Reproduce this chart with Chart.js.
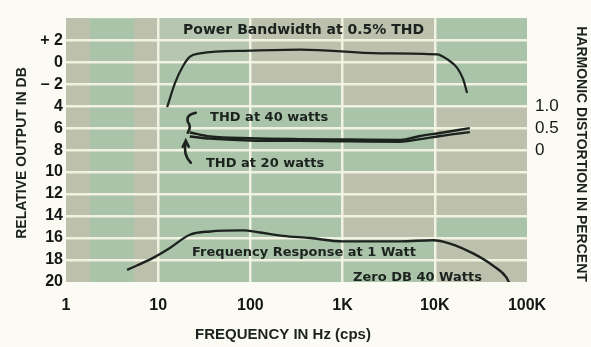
<!DOCTYPE html>
<html>
<head>
<meta charset="utf-8">
<script src="https://cdn.jsdelivr.net/npm/chart.js@4.4.1/dist/chart.umd.min.js"></script>
<style>
  html, body { margin: 0; padding: 0; background: #fbfbf4; }
  #wrap { width: 591px; height: 347px; }
</style>
</head>
<body>
<div id="wrap"><canvas id="chart" width="591" height="347"></canvas></div>
<script>
// axes
const freqTicks = [1, 10, 100, 1000, 10000, 100000];
const freqLabels = ['1', '10', '100', '1K', '10K', '100K'];
const dbTicks = [2, 0, -2, -4, -6, -8, -10, -12, -14, -16, -18, -20];
const dbLabels = ['+ 2', '0', '\u2013 2', '4', '6', '8', '10', '12', '14', '16', '18', '20'];
const thdTicks = [0, 0.5, 1.0];
const thdLabels = ['0', '0.5', '1.0'];

// power bandwidth at 0.5% THD (dB)
const pbFreq = [12.5, 15.2, 18.6, 22.1, 28.4, 99, 345, 2550, 10600, 13600, 17400, 20200, 22400];
const pbDb = [-4.1, -1.9, -0.35, 0.5, 0.8, 1.05, 1.15, 0.8, 0.7, 0.27, -0.5, -1.5, -2.8];

// harmonic distortion (percent)
const thdFreq = [22, 36.5, 100, 345, 1200, 4200, 6900, 11400, 24000];
const thd40 = [0.40, 0.31, 0.27, 0.25, 0.24, 0.23, 0.32, 0.39, 0.50];
const thd20 = [0.31, 0.26, 0.22, 0.21, 0.20, 0.19, 0.25, 0.32, 0.41];

// frequency response at 1 watt (dB)
const frFreq = [4.6, 8.8, 13.4, 22, 36.5, 83, 127, 226, 443, 1000, 4200, 9550, 14600, 26000, 42600, 60000, 65000];
const frDb = [-18.9, -17.8, -16.9, -15.7, -15.4, -15.3, -15.5, -15.8, -16.0, -16.3, -16.3, -16.2, -16.5, -17.4, -18.5, -19.6, -20.2];

const ink = 'rgb(28,34,30)';
const pts = (xs, ys) => xs.map((x, i) => ({ x: x, y: ys[i] }));

function curve(label, data, axis, width) {
  return {
    label: label,
    data: data,
    yAxisID: axis,
    borderColor: ink,
    borderWidth: width,
    pointRadius: 0,
    fill: false,
    cubicInterpolationMode: 'monotone'
  };
}

// tinted cells behind the grid, one string per decade, one letter per 2 dB row
const cellTint = { G: 'rgb(170,196,170)', B: 'rgb(190,192,174)', L: 'rgb(182,198,176)' };
const decadeRows = ['', 'LLGGGGGGGGGG', 'BBBGGGGGGGGG', 'BBBBGGGBBBGG', 'GGGGBBBBBGBB'];

const paperPlugin = {
  id: 'paper',
  beforeDraw(chart) {
    const { ctx, chartArea: a, scales } = chart;
    const xs = scales.x, ys = scales.y;
    ctx.save();
    ctx.fillStyle = cellTint.G;
    ctx.fillRect(a.left, a.top, a.right - a.left, a.bottom - a.top);
    // first decade: beige strips at both sides
    const x0 = xs.getPixelForValue(1), x1 = xs.getPixelForValue(10);
    const w = x1 - x0;
    ctx.fillStyle = cellTint.B;
    ctx.fillRect(x0, a.top, w * 0.26, a.bottom - a.top);
    ctx.fillRect(x1 - w * 0.26, a.top, w * 0.26, a.bottom - a.top);
    for (let d = 1; d < decadeRows.length; d++) {
      const l = xs.getPixelForValue(Math.pow(10, d));
      const r = xs.getPixelForValue(Math.pow(10, d + 1));
      for (let k = 0; k < 12; k++) {
        const t = ys.getPixelForValue(4 - 2 * k);
        const b = ys.getPixelForValue(2 - 2 * k);
        ctx.fillStyle = cellTint[decadeRows[d][k]];
        ctx.fillRect(l, t, r - l, b - t);
      }
    }
    ctx.restore();
  },
  afterDatasetsDraw(chart) {
    const { ctx, scales } = chart;
    const xs = scales.x, ys = scales.y, y2 = scales.y2;
    ctx.save();
    ctx.fillStyle = ink;
    ctx.textBaseline = 'middle';
    ctx.textAlign = 'left';
    ctx.font = 'bold 14px "DejaVu Sans", sans-serif';
    ctx.fillText('Power Bandwidth at 0.5% THD', xs.getPixelForValue(18.6), ys.getPixelForValue(2.92));
    ctx.font = 'bold 13px "DejaVu Sans", sans-serif';
    ctx.fillText('THD at 40 watts', xs.getPixelForValue(36.5), ys.getPixelForValue(-5.04));
    ctx.fillText('THD at 20 watts', xs.getPixelForValue(33), ys.getPixelForValue(-9.2));
    ctx.fillText('Frequency Response at 1 Watt', xs.getPixelForValue(23.3), ys.getPixelForValue(-17.35));
    ctx.fillText('Zero DB 40 Watts', xs.getPixelForValue(1300), ys.getPixelForValue(-19.56));

    // hooked arrows from the labels to the distortion curves
    const hx = xs.getPixelForValue(22);
    const hy = y2.getPixelForValue(0.35);
    ctx.strokeStyle = ink;
    ctx.lineWidth = 2.6;
    ctx.lineCap = 'round';
    ctx.beginPath();
    ctx.moveTo(hx + 6, hy - 22);
    ctx.quadraticCurveTo(hx - 4, hy - 20, hx - 2, hy - 13);
    ctx.quadraticCurveTo(hx + 2, hy - 8, hx - 2, hy - 2);
    ctx.stroke();
    ctx.beginPath();
    ctx.moveTo(hx - 4, hy + 7);
    ctx.quadraticCurveTo(hx - 7, hy + 20, hx + 1, hy + 28);
    ctx.stroke();
    ctx.beginPath();
    ctx.moveTo(hx - 7, hy + 12);
    ctx.lineTo(hx - 4, hy + 6);
    ctx.lineTo(hx - 1, hy + 12);
    ctx.stroke();

    // axis titles
    ctx.font = 'bold 14px "Liberation Sans", Arial, sans-serif';
    ctx.textAlign = 'center';
    ctx.save();
    ctx.translate(22, 153);
    ctx.rotate(-Math.PI / 2);
    ctx.fillText('RELATIVE OUTPUT IN DB', 0, 0);
    ctx.restore();
    ctx.save();
    ctx.translate(581, 154);
    ctx.rotate(Math.PI / 2);
    ctx.fillText('HARMONIC DISTORTION IN PERCENT', 0, 0);
    ctx.restore();
    ctx.font = 'bold 15px "Liberation Sans", Arial, sans-serif';
    ctx.fillText('FREQUENCY IN Hz (cps)', 283, 335);
    ctx.restore();
  }
};

const gridColor = 'rgba(244,244,228,0.95)';
const tickFont = { family: '"Liberation Sans", Arial, sans-serif', size: 16, weight: 'bold' };

new Chart(document.getElementById('chart').getContext('2d'), {
  type: 'line',
  data: {
    datasets: [
      curve('Power Bandwidth at 0.5% THD', pts(pbFreq, pbDb), 'y', 2.2),
      curve('THD at 40 watts', pts(thdFreq, thd40), 'y2', 2.4),
      curve('THD at 20 watts', pts(thdFreq, thd20), 'y2', 2.4),
      curve('Frequency Response at 1 Watt', pts(frFreq, frDb), 'y', 2.4)
    ]
  },
  options: {
    responsive: false,
    animation: false,
    layout: { padding: { top: 11, left: 0, right: 0, bottom: 0 } },
    plugins: { legend: { display: false }, tooltip: { enabled: false } },
    scales: {
      x: {
        type: 'logarithmic',
        min: 1,
        max: 100000,
        afterBuildTicks: s => { s.ticks = freqTicks.map(v => ({ value: v })); },
        afterFit: s => { s.height = 65; },
        border: { display: false },
        grid: {
          drawTicks: false,
          lineWidth: 2.5,
          color: c => (c.tick && (c.tick.value === 1 || c.tick.value === 100000)) ? 'rgba(0,0,0,0)' : gridColor
        },
        ticks: {
          padding: 14,
          color: 'rgb(22,22,22)',
          font: tickFont,
          autoSkip: false,
          maxRotation: 0,
          callback: (v, i) => freqLabels[i]
        }
      },
      y: {
        type: 'linear',
        min: -20,
        max: 4,
        afterBuildTicks: s => { s.ticks = dbTicks.map(v => ({ value: v })); },
        afterFit: s => { s.width = 66; },
        border: { display: false },
        grid: {
          drawTicks: false,
          lineWidth: 2.5,
          color: c => (c.tick && c.tick.value === -20) ? 'rgba(0,0,0,0)' : gridColor
        },
        ticks: {
          padding: 3,
          color: 'rgb(22,22,22)',
          font: tickFont,
          autoSkip: false,
          callback: (v, i) => dbLabels[i]
        }
      },
      y2: {
        type: 'linear',
        position: 'right',
        min: -3,
        max: 3,
        afterBuildTicks: s => { s.ticks = thdTicks.map(v => ({ value: v })); },
        afterFit: s => { s.width = 64; },
        border: { display: false },
        grid: { display: false, drawTicks: false },
        ticks: {
          padding: 8,
          color: 'rgb(22,22,22)',
          font: { family: '"Liberation Sans", Arial, sans-serif', size: 17 },
          autoSkip: false,
          callback: (v, i) => thdLabels[i]
        }
      }
    }
  },
  plugins: [paperPlugin]
});
</script>
</body>
</html>
